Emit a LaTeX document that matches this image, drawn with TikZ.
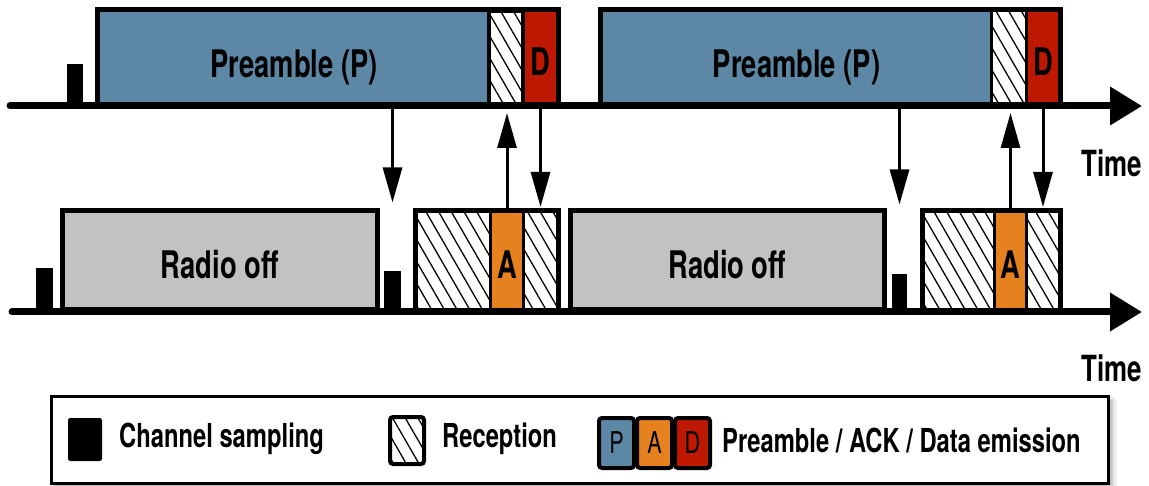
\documentclass[tikz,border=0pt]{standalone}
\usepackage{fontspec}
\setmainfont{TeX Gyre Heros}[FakeStretch=0.72]
\usetikzlibrary{arrows.meta,patterns.meta,shadows.blur,calc}

\definecolor{preblue}{RGB}{92,136,166}
\definecolor{datared}{RGB}{190,24,0}
\definecolor{ackorange}{RGB}{229,129,30}
\definecolor{offgray}{RGB}{194,194,194}

\tikzset{
  seg/.style={draw=black, line width=3pt, inner sep=0pt, anchor=south west},
  pseg/.style={seg, fill=preblue},
  dseg/.style={seg, fill=datared},
  aseg/.style={seg, fill=ackorange},
  hatch/.style={pattern={Lines[angle=120,distance=11pt,line width=1.3pt]}},
  hseg/.style={seg, hatch},
  offbox/.style={seg, fill=offgray, line width=4.5pt},
  frame/.style={line width=4.5pt},
  sample/.style={fill=black, draw=black, line width=1pt, inner sep=0pt, anchor=south west},
  axis/.style={line width=7pt, line cap=round, -{Triangle[length=32pt,width=37pt]}},
  sig/.style={line width=3pt, -{Triangle[length=35pt,width=19pt]}},
  big/.style={font=\fontsize{38}{40}\selectfont\bfseries, text height=36pt, text depth=0pt},
  bigpre/.style={big, text height=40pt},
  timetext/.style={font=\fontsize{36}{38}\selectfont\bfseries},
  legtext/.style={font=\fontsize{33}{35}\selectfont\bfseries, anchor=west, inner sep=0pt},
  legicon/.style={draw=black, line width=4pt, rounded corners=3pt, inner sep=0pt, anchor=north west},
  padletter/.style={legicon, minimum width=35pt, minimum height=50pt, font=\fontsize{30}{32}\selectfont}
}

\begin{document}
\begin{tikzpicture}[x=1pt, y=-1pt]
\useasboundingbox (0,0) rectangle (1149,486);

% ---------------- sender (top timeline) ----------------
\node[sample, minimum width=15pt, minimum height=41pt] (ts1) at (67,106) {};
\node[pseg, minimum width=391pt, minimum height=94pt, bigpre] (p1) at (97,106) {Preamble (P)};
\node[hseg, minimum width=34pt, minimum height=94pt] (h1) at (488,106) {};
\node[dseg, minimum width=34pt, minimum height=94pt, big] (d1) at (522,106) {D};
\draw[frame] (p1.south west) rectangle (d1.north east);

\node[pseg, minimum width=390pt, minimum height=94pt, bigpre] (p2) at (600,106) {Preamble (P)};
\node[hseg, minimum width=35pt, minimum height=94pt] (h2) at (990,106) {};
\node[dseg, minimum width=33pt, minimum height=94pt, big] (d2) at (1025,106) {D};
\draw[frame] (p2.south west) rectangle (d2.north east);

\coordinate (ax1s) at (10,106);
\coordinate (ax1e) at (1142,106);
\draw[axis] (ax1s) -- (ax1e);
\node[timetext] (time1) at (1112,163) {Time};

% ---------------- receiver (bottom timeline) ----------------
\node[sample, minimum width=16pt, minimum height=43pt] (bs1) at (36,312) {};
\node[offbox, minimum width=315pt, minimum height=99pt, big] (ro1) at (60,312) {Radio off};
\node[sample, minimum width=16pt, minimum height=40pt] (bs2) at (384,312) {};
\node[hseg, minimum width=74pt, minimum height=99pt] (rh1) at (415,312) {};
\node[aseg, minimum width=33pt, minimum height=99pt, big] (a1) at (489,312) {A};
\node[hseg, minimum width=34pt, minimum height=99pt] (rh2) at (522,312) {};
\draw[frame] (rh1.south west) rectangle (rh2.north east);

\node[offbox, minimum width=314pt, minimum height=99pt, big] (ro2) at (568,312) {Radio off};
\node[sample, minimum width=14pt, minimum height=37pt] (bs3) at (892,312) {};
\node[hseg, minimum width=71pt, minimum height=99pt] (rh3) at (922,312) {};
\node[aseg, minimum width=32pt, minimum height=99pt, big] (a2) at (993,312) {A};
\node[hseg, minimum width=33pt, minimum height=99pt] (rh4) at (1025,312) {};
\draw[frame] (rh3.south west) rectangle (rh4.north east);

\coordinate (ax2s) at (12,312);
\coordinate (ax2e) at (1142,312);
\draw[axis] (ax2s) -- (ax2e);
\node[timetext] (time2) at (1112,368) {Time};

% ---------------- exchanges between the two nodes ----------------
\draw[sig] (p1.south -| bs2.center) -- ($(bs2.north |- ro1.north)+(0,-6)$);
\draw[sig, shorten >=7pt] (a1.north) -- (a1.north |- h1.south);
\draw[sig, shorten >=3pt] (d1.south) -- (rh2.north);

\draw[sig] (p2.south -| bs3.center) -- ($(bs3.north |- ro2.north)+(0,-4)$);
\draw[sig, shorten >=7pt] (a2.north) -- (a2.north |- h2.south);
\draw[sig, shorten >=3pt] (d2.south) -- (rh4.north);

% ---------------- legend ----------------
\node[draw=black, line width=2.5pt, fill=white, inner sep=0pt, anchor=north west,
      minimum width=1057pt, minimum height=87pt,
      blur shadow={shadow xshift=4pt, shadow yshift=-4pt, shadow blur radius=5pt, shadow opacity=35}]
      (leg) at (50,395) {};

\node[legicon, fill=black, line width=1pt, rounded corners=2pt, minimum width=33pt, minimum height=42pt] (lk) at (68,418) {};
\node[legtext] (lkt) at (119,439) {Channel sampling};

\node[legicon, hatch, minimum width=34pt, minimum height=47pt] (lr) at (388,415) {};
\node[legtext] (lrt) at (442,439) {Reception};

\node[padletter, fill=preblue] (lp) at (597,416) {P};
\node[padletter, fill=ackorange] (la) at (635,416) {A};
\node[padletter, fill=datared] (ld) at (673,416) {D};
\node[legtext] (lpt) at (722,440) {Preamble / ACK / Data emission};
\end{tikzpicture}
\end{document}
